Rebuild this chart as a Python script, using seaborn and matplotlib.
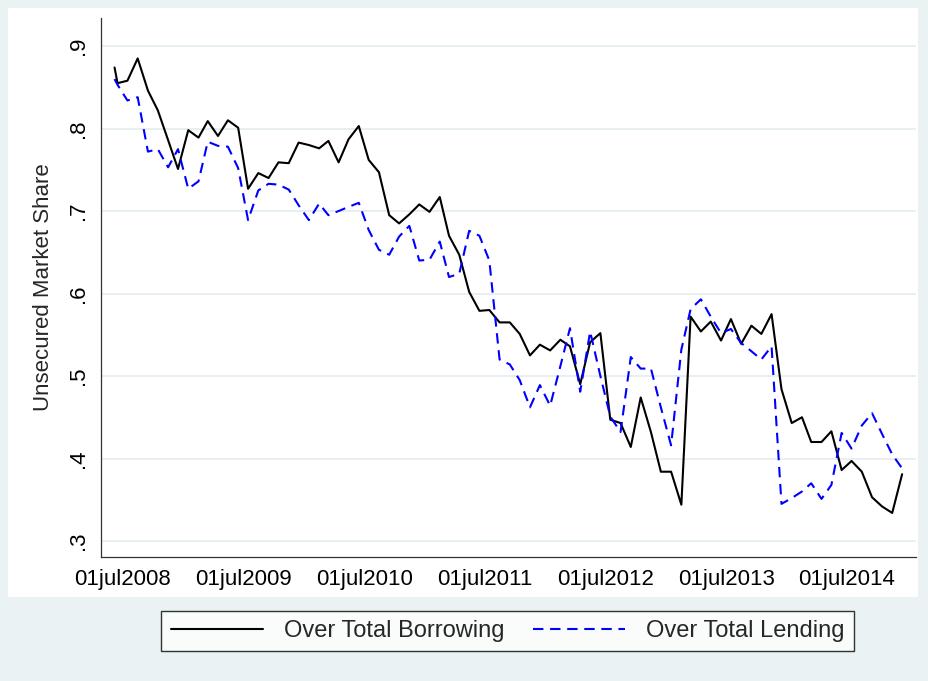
import numpy as np
import pandas as pd
import matplotlib
matplotlib.use("Agg")
import matplotlib.pyplot as plt
from matplotlib.lines import Line2D
from matplotlib.patches import Rectangle
import seaborn as sns

# ---- data ----
first_date = "2008-06-06"
monthly_dates = pd.date_range("2008-06-15", "2014-12-15",
                              freq=pd.DateOffset(months=1)).strftime("%Y-%m-%d").tolist()
dates = [first_date] + monthly_dates

borrowing = [
    0.874, 0.855, 0.858, 0.885, 0.846, 0.822, 0.786, 0.751, 0.798, 0.789,
    0.809, 0.791, 0.810, 0.801, 0.727, 0.746, 0.740, 0.759, 0.758, 0.783,
    0.780, 0.776, 0.785, 0.759, 0.787, 0.803, 0.762, 0.747, 0.695, 0.685,
    0.696, 0.708, 0.699, 0.717, 0.670, 0.647, 0.602, 0.579, 0.580, 0.565,
    0.565, 0.551, 0.525, 0.538, 0.531, 0.544, 0.536, 0.490, 0.541, 0.552,
    0.447, 0.443, 0.414, 0.474, 0.432, 0.384, 0.384, 0.344, 0.572, 0.554,
    0.566, 0.543, 0.569, 0.539, 0.561, 0.551, 0.575, 0.484, 0.443, 0.450,
    0.420, 0.420, 0.433, 0.386, 0.397, 0.384, 0.353, 0.342, 0.334, 0.381,
]
lending = [
    0.860, 0.853, 0.834, 0.838, 0.772, 0.775, 0.753, 0.775, 0.727, 0.736,
    0.784, 0.779, 0.778, 0.752, 0.689, 0.725, 0.733, 0.732, 0.726, 0.707,
    0.689, 0.709, 0.695, 0.700, 0.705, 0.710, 0.677, 0.653, 0.647, 0.669,
    0.682, 0.640, 0.641, 0.663, 0.620, 0.624, 0.676, 0.670, 0.640, 0.520,
    0.514, 0.495, 0.462, 0.489, 0.464, 0.512, 0.558, 0.481, 0.554, 0.500,
    0.451, 0.432, 0.523, 0.509, 0.509, 0.462, 0.416, 0.532, 0.581, 0.593,
    0.572, 0.552, 0.557, 0.540, 0.530, 0.520, 0.536, 0.345, 0.352, 0.360,
    0.370, 0.351, 0.368, 0.431, 0.412, 0.440, 0.455, 0.430, 0.405, 0.388,
]
series_names = ["Over Total Borrowing", "Over Total Lending"]
xtick_dates = ["2008-07-01", "2009-07-01", "2010-07-01", "2011-07-01",
               "2012-07-01", "2013-07-01", "2014-07-01"]
xtick_labels = ["01jul2008", "01jul2009", "01jul2010", "01jul2011",
                "01jul2012", "01jul2013", "01jul2014"]
ytick_values = [0.3, 0.4, 0.5, 0.6, 0.7, 0.8, 0.9]
ytick_labels = [".3", ".4", ".5", ".6", ".7", ".8", ".9"]
ylabel_text = "Unsecured Market Share"

df = pd.DataFrame({"date": pd.to_datetime(dates),
                   series_names[0]: borrowing,
                   series_names[1]: lending})
long = df.melt(id_vars="date", var_name="series", value_name="share")

# ---- figure ----
sns.set_style("white")
plt.rcParams["font.family"] = ["Liberation Sans", "DejaVu Sans"]

W, H = 929, 681
fig = plt.figure(figsize=(W / 100, H / 100), dpi=100)
bg = "#eaf2f3"
fig.patch.set_facecolor(bg)
# inner white graph region
fig.patches.append(Rectangle((8 / W, 1 - 597 / H), (918 - 8) / W, (597 - 8) / H,
                             transform=fig.transFigure, facecolor="white",
                             edgecolor="none", zorder=-10))

left, right, top, bottom = 101, 916, 18, 557
ax = fig.add_axes([left / W, 1 - bottom / H, (right - left) / W, (bottom - top) / H])
ax.set_facecolor("white")
ax.set_zorder(1)

palette = {series_names[0]: "black", series_names[1]: "#0000ff"}
dashes = {series_names[0]: "", series_names[1]: (5, 3.2)}
sns.lineplot(data=long, x="date", y="share", hue="series", style="series",
             palette=palette, dashes=dashes, estimator=None, sort=False,
             linewidth=1.5, legend=False, ax=ax)

ax.set_xlim(pd.Timestamp("2008-04-26"), pd.Timestamp("2015-01-26"))
ax.set_ylim(0.2806, 0.934)

ax.set_xticks(pd.to_datetime(xtick_dates))
ax.set_xticklabels(xtick_labels, fontsize=16)
ax.set_yticks(ytick_values)
ax.set_yticklabels(ytick_labels, fontsize=16, rotation=90, va="center")
ax.set_xlabel("")
ax.set_ylabel(ylabel_text, fontsize=16, labelpad=10)

ax.grid(axis="y", color="#e6eef0", linewidth=1.3)
ax.grid(axis="x", visible=False)
for s in ["top", "right"]:
    ax.spines[s].set_visible(False)
for s in ["left", "bottom"]:
    ax.spines[s].set_color("#333333")
    ax.spines[s].set_linewidth(0.9)
ax.tick_params(axis="both", direction="out", length=5, width=0.8,
               color="#333333", labelcolor="black", pad=4)

handles = [Line2D([], [], color="black", lw=1.5),
           Line2D([], [], color="#0000ff", lw=1.5, dashes=(5, 3.2))]
leg = fig.legend(handles, series_names, loc="center",
                 bbox_to_anchor=((157 + 858) / 2 / W, 1 - 631 / H),
                 ncol=2, frameon=True, fancybox=False, fontsize=17,
                 handlelength=3.9, handletextpad=0.9, columnspacing=1.2,
                 borderpad=0.4, edgecolor="black")
leg.get_frame().set_linewidth(1.0)
leg.get_frame().set_facecolor("white")

fig.savefig("out.png", dpi=100, facecolor=fig.get_facecolor())
